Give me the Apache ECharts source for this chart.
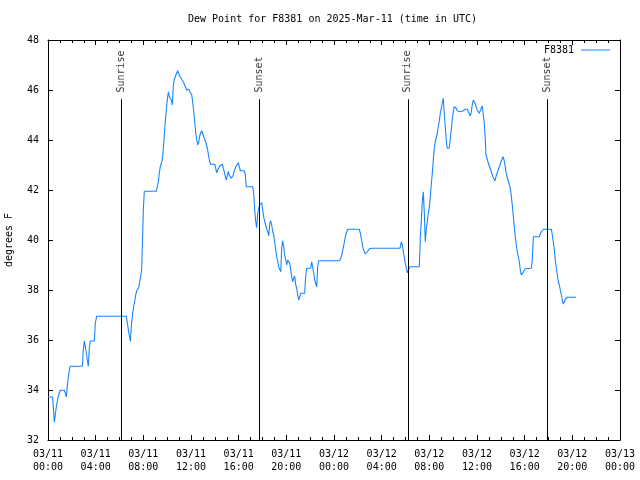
<!DOCTYPE html>
<html>
<head>
<meta charset="utf-8">
<script src="https://cdn.jsdelivr.net/npm/echarts@6/dist/echarts.min.js"></script>
<style>html,body{margin:0;padding:0;background:#fff;}#c{width:640px;height:480px;}</style>
</head>
<body>
<div id="c"></div>
<script>
// hours since 2025-03-11 00:00 UTC
var hours = [
0.00,0.39,0.53,0.70,0.87,1.03,1.37,1.45,1.54,1.62,1.70,1.79,1.87,2.88,2.96,3.05,3.13,3.21,3.30,3.38,3.47,3.55,3.89,3.97,4.08,
6.57,6.69,6.77,6.86,6.91,7.02,7.11,7.19,7.28,7.36,7.44,7.61,7.69,7.78,7.86,
7.91,8.00,8.08,9.09,9.17,9.26,9.34,9.42,9.59,9.68,9.76,9.84,9.93,10.01,10.10,10.18,10.26,10.35,10.43,10.51,10.60,10.68,10.77,10.88,10.97,11.05,11.14,11.22,11.30,11.39,11.47,11.55,11.64,11.81,11.97,
12.06,12.14,12.23,12.31,12.39,12.48,12.56,12.65,12.73,12.81,12.90,12.98,13.07,13.15,13.23,13.32,13.40,13.49,13.57,13.65,13.99,14.07,14.16,14.24,14.32,14.41,14.49,14.63,14.71,14.79,14.88,14.96,
15.05,15.13,15.21,15.30,15.38,15.46,15.55,15.63,15.72,15.80,15.88,15.97,16.05,16.14,16.47,16.56,16.64,17.18,17.26,17.35,17.43,17.51,17.60,
17.68,17.77,17.85,17.94,18.02,18.10,18.19,18.27,18.36,18.44,18.52,18.61,18.69,18.77,18.86,18.94,19.02,19.11,19.19,19.28,19.36,19.44,19.53,19.61,19.69,19.78,19.86,19.95,
20.03,20.11,20.20,20.28,20.37,20.45,20.53,20.62,20.70,20.79,20.87,20.95,21.04,21.12,21.21,21.54,21.62,21.71,22.04,22.13,22.21,22.30,22.38,22.46,22.55,22.63,22.71,
24.45,24.57,24.65,24.73,24.81,24.90,24.98,25.07,25.15,26.12,26.21,26.29,26.38,26.46,26.54,26.63,26.71,26.80,26.88,26.96,27.13,
29.54,29.65,29.73,29.82,29.90,29.98,30.07,30.15,30.24,30.32,30.40,31.16,
31.24,31.33,31.41,31.49,31.58,31.66,31.75,31.83,31.91,31.99,32.08,32.16,32.25,32.33,32.41,32.50,32.58,32.67,32.75,32.83,32.92,33.00,33.08,33.17,33.25,33.34,33.42,33.50,33.67,33.76,33.84,33.92,
34.01,34.09,34.18,34.26,34.34,34.43,34.60,34.76,34.85,35.02,35.19,35.27,35.35,35.44,35.52,35.60,35.69,35.77,35.86,35.94,36.02,36.11,36.19,36.28,36.36,36.44,36.53,36.61,36.70,36.75,36.84,36.92,
37.01,37.09,37.17,37.26,37.34,37.43,37.51,37.59,37.68,37.76,37.85,37.93,38.01,38.10,38.18,38.27,38.35,38.43,38.52,38.60,38.71,38.79,38.88,38.96,
39.05,39.13,39.21,39.30,39.38,39.47,39.55,39.63,39.72,39.80,39.89,39.97,40.05,40.17,40.56,40.64,40.73,41.23,41.31,41.40,41.48,41.57,
42.24,42.32,42.40,42.49,42.57,42.66,42.74,42.82,42.91,42.99,43.08,43.16,43.24,43.33,43.41,43.50,43.58,44.31
];
var dewPoint = [
33.72,33.72,32.71,33.33,33.77,33.99,33.99,33.88,33.72,34.16,34.49,34.80,34.95,34.95,35.60,35.96,35.73,35.50,35.20,34.95,35.67,35.96,35.96,36.67,36.95,
36.95,36.60,36.30,36.10,35.95,36.69,37.07,37.33,37.56,37.80,37.96,38.09,38.33,38.56,38.80,
39.63,41.20,41.95,41.95,42.13,42.33,42.67,42.93,43.20,43.67,44.20,44.73,45.20,45.60,45.93,45.73,45.80,45.60,45.40,46.13,46.43,46.53,46.64,46.77,46.67,46.56,46.51,46.43,46.36,46.29,46.20,46.13,46.00,46.03,45.97,
45.80,45.53,45.13,44.73,44.33,44.00,43.80,43.93,44.16,44.27,44.37,44.27,44.13,44.03,43.93,43.76,43.60,43.33,43.13,43.03,43.03,42.87,42.69,42.80,42.87,42.96,43.03,43.03,42.87,42.73,42.53,42.40,
42.60,42.73,42.60,42.53,42.47,42.40,42.60,42.77,42.87,42.96,43.03,43.09,42.93,42.77,42.77,42.60,42.13,42.13,41.87,41.20,40.73,40.49,41.07,
41.27,41.40,41.33,41.50,41.20,40.93,40.73,40.60,40.43,40.33,40.16,40.67,40.77,40.60,40.33,40.20,39.93,39.60,39.33,39.13,38.93,38.87,38.73,39.67,39.97,39.73,39.40,39.20,
39.00,39.20,39.27,39.07,38.80,38.53,38.33,38.47,38.56,38.20,38.07,37.80,37.60,37.73,37.87,37.87,38.53,38.87,38.87,39.13,38.91,38.67,38.40,38.33,38.13,38.93,39.17,
39.17,39.27,39.40,39.60,39.76,40.00,40.20,40.33,40.43,40.43,40.27,40.07,39.80,39.63,39.53,39.44,39.49,39.53,39.60,39.64,39.67,
39.67,39.93,39.80,39.53,39.31,39.07,38.87,38.69,38.80,38.87,38.93,38.93,
40.07,40.80,41.53,41.93,41.07,39.93,40.47,40.73,41.07,41.27,41.73,42.20,42.67,43.20,43.67,43.93,44.00,44.27,44.53,44.73,45.07,45.27,45.47,45.67,45.07,44.53,44.00,43.67,43.67,44.07,44.40,44.80,
45.13,45.33,45.40,45.27,45.17,45.09,45.13,45.13,45.17,45.23,45.23,45.13,45.07,44.96,45.13,45.40,45.60,45.53,45.44,45.31,45.20,45.13,45.07,45.17,45.27,45.36,45.40,44.67,44.00,43.40,43.27,43.13,
43.00,42.89,42.77,42.64,42.53,42.47,42.36,42.53,42.67,42.77,42.91,43.00,43.13,43.23,43.33,43.20,43.00,42.73,42.53,42.40,42.33,42.08,41.75,41.40,
40.93,40.53,40.13,39.80,39.53,39.33,39.13,38.80,38.60,38.67,38.73,38.80,38.85,38.87,38.87,39.20,40.13,40.13,40.24,40.33,40.40,40.43,
40.43,40.20,39.93,39.60,39.20,38.87,38.60,38.33,38.20,38.00,37.80,37.60,37.44,37.53,37.63,37.68,37.71,37.71
];
var sunEventNames = ['Sunrise', 'Sunset', 'Sunrise', 'Sunset'];
var sunEventHours = [6.17, 17.73, 30.2, 41.88];
var sunLineTop = 45.63;
var sunLabelBase = 45.9;
var yTicks = [32, 34, 36, 38, 40, 42, 44, 46, 48];
var dayLabels = ['03/11', '03/12', '03/13'];

var FONT = 'DejaVu Sans Mono';
var lineData = hours.map(function (h, i) { return [h, dewPoint[i]]; });
var markData = sunEventHours.map(function (h) {
  return [{ coord: [h, sunLineTop] }, { coord: [h, yTicks[0]] }];
});
var labelData = sunEventHours.map(function (h, i) {
  return { value: [h, sunLabelBase], name: sunEventNames[i] };
});

function xLabel(v) {
  var d = Math.floor(v / 24);
  var hh = Math.round(v - d * 24);
  return dayLabels[d] + '\n' + (hh < 10 ? '0' : '') + hh + ':00';
}

var chart = echarts.init(document.getElementById('c'), null, { renderer: 'canvas' });
var axisLine = { show: true, onZero: false, lineStyle: { color: '#000', width: 1 } };
chart.setOption({
  animation: false,
  backgroundColor: '#fff',
  textStyle: { fontFamily: FONT },
  title: {
    text: 'Dew Point for F8381 on 2025-Mar-11 (time in UTC)',
    left: 188, top: 14, padding: 0,
    textStyle: { fontFamily: FONT, fontSize: 10, fontWeight: 'normal', color: '#000' }
  },
  legend: {
    data: [{ name: 'F8381', icon: 'rect' }],
    right: 30, top: 45, align: 'right',
    itemWidth: 29, itemHeight: 1, itemGap: 0,
    padding: 0,
    textStyle: { fontFamily: FONT, fontSize: 10, color: '#000', padding: [0, 2, 0, 0] }
  },
  grid: { left: 48, right: 20, top: 40, bottom: 40, outerBoundsMode: 'none', containLabel: false },
  xAxis: [{
    type: 'value', min: 0, max: 48, interval: 4, position: 'bottom',
    axisLine: axisLine,
    axisTick: { show: true, inside: true, length: 5, lineStyle: { color: '#000' } },
    minorTick: { show: true, splitNumber: 4, length: 3, lineStyle: { color: '#000' } },
    splitLine: { show: false },
    axisLabel: { formatter: xLabel, fontFamily: FONT, fontSize: 10, color: '#000', lineHeight: 13, margin: 8 }
  }, {
    type: 'value', min: 0, max: 48, interval: 4, position: 'top',
    axisLine: axisLine,
    axisTick: { show: true, inside: true, length: 5, lineStyle: { color: '#000' } },
    minorTick: { show: true, splitNumber: 4, length: 3, lineStyle: { color: '#000' } },
    splitLine: { show: false },
    axisLabel: { show: false }
  }],
  yAxis: [{
    type: 'value', min: yTicks[0], max: yTicks[yTicks.length - 1], interval: 2, position: 'left',
    name: 'degrees F', nameLocation: 'middle', nameGap: 34,
    nameTextStyle: { fontFamily: FONT, fontSize: 10, color: '#000' },
    axisLine: axisLine,
    axisTick: { show: true, inside: true, length: 5, lineStyle: { color: '#000' } },
    splitLine: { show: false },
    axisLabel: { fontFamily: FONT, fontSize: 10, color: '#000', margin: 9 }
  }, {
    type: 'value', min: yTicks[0], max: yTicks[yTicks.length - 1], interval: 2, position: 'right',
    axisLine: axisLine,
    axisTick: { show: true, inside: true, length: 5, lineStyle: { color: '#000' } },
    splitLine: { show: false },
    axisLabel: { show: false }
  }],
  series: [{
    name: 'F8381', type: 'line', data: lineData,
    symbol: 'none', showSymbol: false,
    lineStyle: { color: '#1585ff', width: 1.1 },
    itemStyle: { color: '#1585ff' },
    markLine: {
      silent: true, symbol: ['none', 'none'],
      lineStyle: { color: '#000', width: 1, type: 'solid' },
      label: { show: false },
      data: markData
    },
    z: 3
  }, {
    name: 'sun', type: 'scatter', data: labelData,
    symbolSize: 0, silent: true,
    label: {
      show: true, position: 'inside', rotate: 90,
      align: 'left', verticalAlign: 'middle',
      formatter: function (p) { return p.name; },
      fontFamily: FONT, fontSize: 10, color: '#000'
    }
  }]
});
</script>
</body>
</html>
